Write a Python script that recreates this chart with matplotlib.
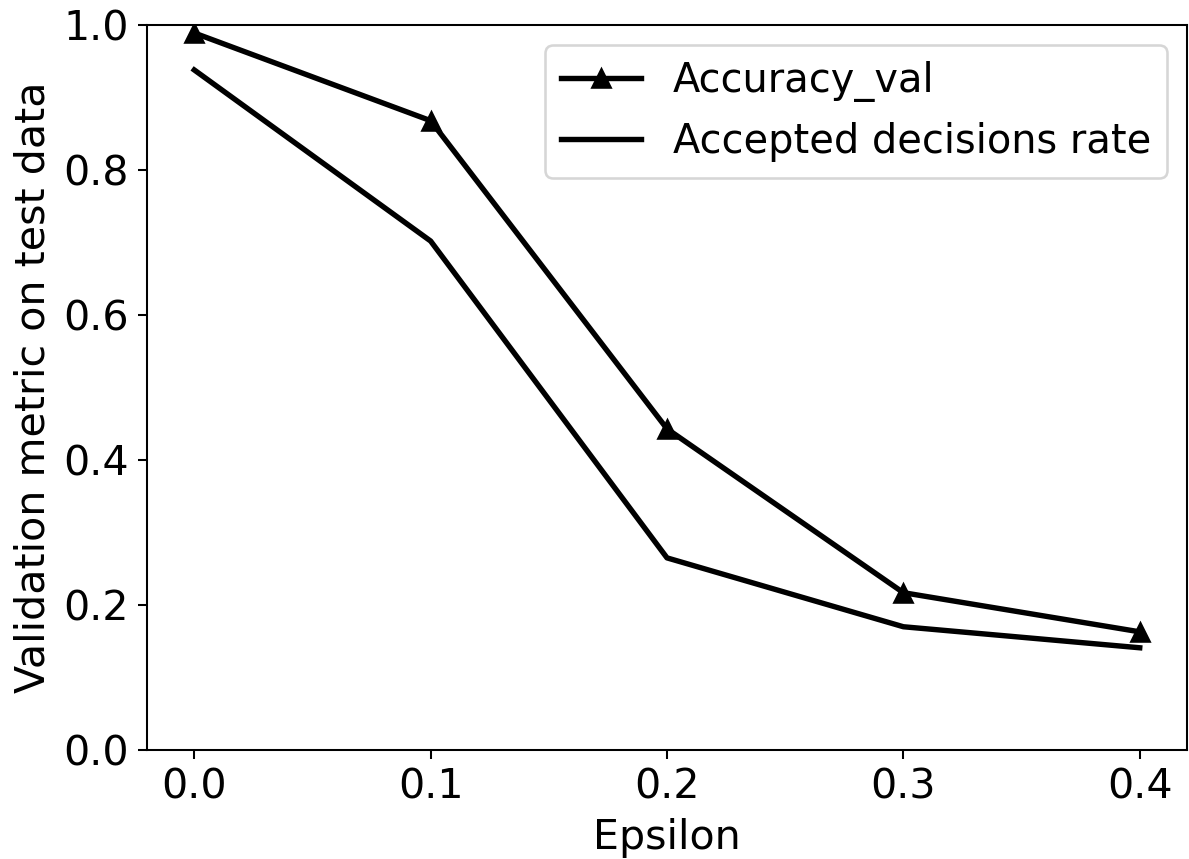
import matplotlib
matplotlib.use("Agg")
import matplotlib.pyplot as plt

epsilon = [0.0, 0.1, 0.2, 0.3, 0.4]
accuracy_val = [0.989, 0.868, 0.443, 0.217, 0.163]
accepted_rate = [0.938, 0.702, 0.265, 0.170, 0.141]

DPI = 185
fig = plt.figure(figsize=(1189 / DPI, 859 / DPI), dpi=DPI)
ax = fig.add_axes([147 / 1189, 1 - 750 / 859, (1187 - 147) / 1189, (750 - 25) / 859])

ax.plot(epsilon, accuracy_val, color="black", marker="^", markersize=7, linewidth=2.1, label="Accuracy_val")
ax.plot(epsilon, accepted_rate, color="black", linewidth=2.1, label="Accepted decisions rate")

ax.set_ylim(0, 1.0)
ax.set_xticks(epsilon)
ax.set_xlabel("Epsilon", fontsize=16)
ax.set_ylabel("Validation metric on test data", fontsize=16)
ax.tick_params(labelsize=16)
ax.legend(loc="upper right", fontsize=15.5)

fig.savefig("out.png", dpi=DPI)
